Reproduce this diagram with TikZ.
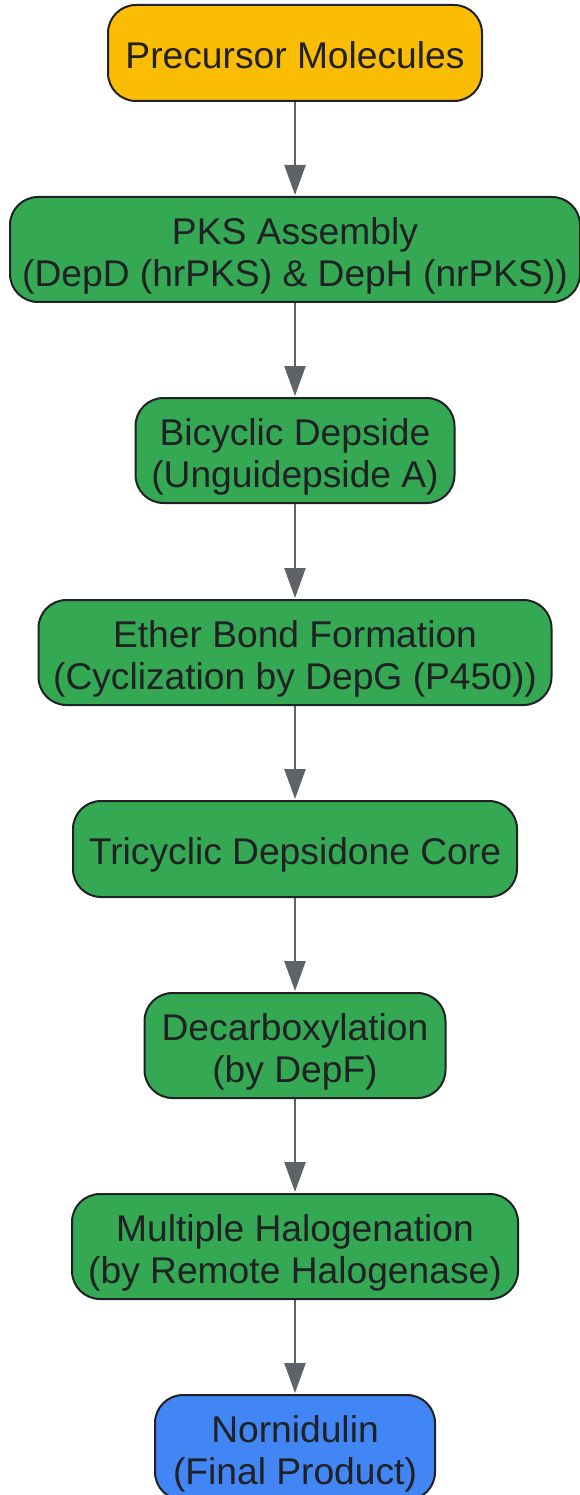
\documentclass[tikz,border=0pt]{standalone}
\usepackage{fontspec}
\setmainfont{Liberation Sans}
\usetikzlibrary{arrows.meta}
\definecolor{ygold}{HTML}{FBBC04}
\definecolor{ggreen}{HTML}{34A853}
\definecolor{gblue}{HTML}{4285F4}
\definecolor{txt}{HTML}{202124}
\definecolor{edge}{HTML}{5F6368}
\newcommand\mytop{\rule{0pt}{40pt}}
\newcommand\mybot{\rule[-8.5pt]{0pt}{8.5pt}}
\tikzset{
  box/.style={draw=txt, line width=2pt, rounded corners=28pt, align=center,
    text=txt, font=\fontsize{37.2}{42.3}\selectfont, inner sep=0pt, anchor=north},
  flow/.style={draw=edge, line width=2.5pt, -{Triangle[length=30pt,width=21pt]}, shorten >=1pt}
}
\begin{document}
\begin{tikzpicture}[x=1pt,y=-1pt]
\useasboundingbox (0,0) rectangle (579,1495);
\node[box, fill=ygold, minimum width=374pt, minimum height=96pt] (n1) at (295,4) {\mytop Precursor Molecules\mybot};
\node[box, fill=ggreen, minimum width=570pt, minimum height=105pt] (n2) at (295,196) {\mytop PKS Assembly\\(DepD (hrPKS) \& DepH (nrPKS))\mybot};
\node[box, fill=ggreen, minimum width=319pt, minimum height=105pt] (n3) at (295,397) {\mytop Bicyclic Depside\\(Unguidepside A)\mybot};
\node[box, fill=ggreen, minimum width=513pt, minimum height=105pt] (n4) at (295,599) {\mytop Ether Bond Formation\\(Cyclization by DepG (P450))\mybot};
\node[box, fill=ggreen, minimum width=444pt, minimum height=96pt] (n5) at (295,800) {\mytop Tricyclic Depsidone Core\mybot};
\node[box, fill=ggreen, minimum width=301pt, minimum height=105pt] (n6) at (295,992) {\mytop Decarboxylation\\(by DepF)\mybot};
\node[box, fill=ggreen, minimum width=446pt, minimum height=105pt] (n7) at (295,1193) {\mytop Multiple Halogenation\\(by Remote Halogenase)\mybot};
\node[box, fill=gblue, minimum width=280pt, minimum height=105pt] (n8) at (295,1394) {\mytop Nornidulin\\(Final Product)\mybot};
\draw[flow] (n1) -- (n2);
\draw[flow] (n2) -- (n3);
\draw[flow] (n3) -- (n4);
\draw[flow] (n4) -- (n5);
\draw[flow] (n5) -- (n6);
\draw[flow] (n6) -- (n7);
\draw[flow] (n7) -- (n8);
\end{tikzpicture}
\end{document}
